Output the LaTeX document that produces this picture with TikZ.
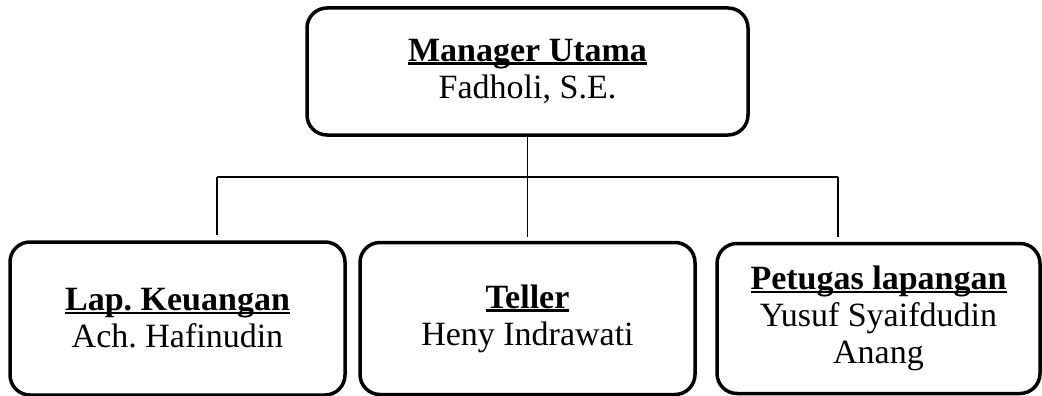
\documentclass[tikz,border=0pt]{standalone}
\usepackage{fontspec}
\setmainfont{Liberation Serif}
\usetikzlibrary{positioning}

\newcommand{\jabatan}[1]{\setbox0\hbox{\textbf{#1}}\rlap{\rule[-3.5pt]{\wd0}{2.6pt}}\box0}

\begin{document}
\frenchspacing
\begin{tikzpicture}[
			x=1pt, y=1pt,
			node distance=247pt,
			on grid,
			box/.style={
				draw,
				rounded corners=20pt,
				line width=3.5pt,
				align=center,
				inner sep=0pt,
				font=\fontsize{34}{37}\selectfont
			},
			garis/.style={
				line width=1.4pt
			}
			]
			\useasboundingbox (0,0) rectangle (1042,-396);
			% Pimpinan
			\node[box, minimum width=441pt, minimum height=127pt] (mgr) at (527.5,-71.5) {\jabatan{Manager Utama}\\Fadholi, S.E.};
			
			% Bawahan
			\node[box, minimum width=335pt, minimum height=152pt] (teller) [below=of mgr] {\jabatan{Teller}\\Heny Indrawati};
			\node[box, minimum width=335pt, minimum height=153pt] (keu) [left=350pt of teller] {\jabatan{Lap. Keuangan}\\Ach. Hafinudin};
			\node[box, minimum width=323pt, minimum height=150pt] (lap) [right=351pt of teller] {\jabatan{Petugas lapangan}\\Yusuf Syaifdudin\\Anang};
			
			% Garis
			\coordinate (busL) at (217,-177);
			\coordinate (busR) at (838,-177);
			\draw[garis, shorten >=4pt] (mgr.south) -- (teller.north);
			\draw[garis] (busL) -- (busR);
			\draw[garis, shorten >=5pt] (busL) -- (busL |- keu.north);
			\draw[garis, shorten >=5pt] (busR) -- (busR |- lap.north);
		\end{tikzpicture}
\end{document}
